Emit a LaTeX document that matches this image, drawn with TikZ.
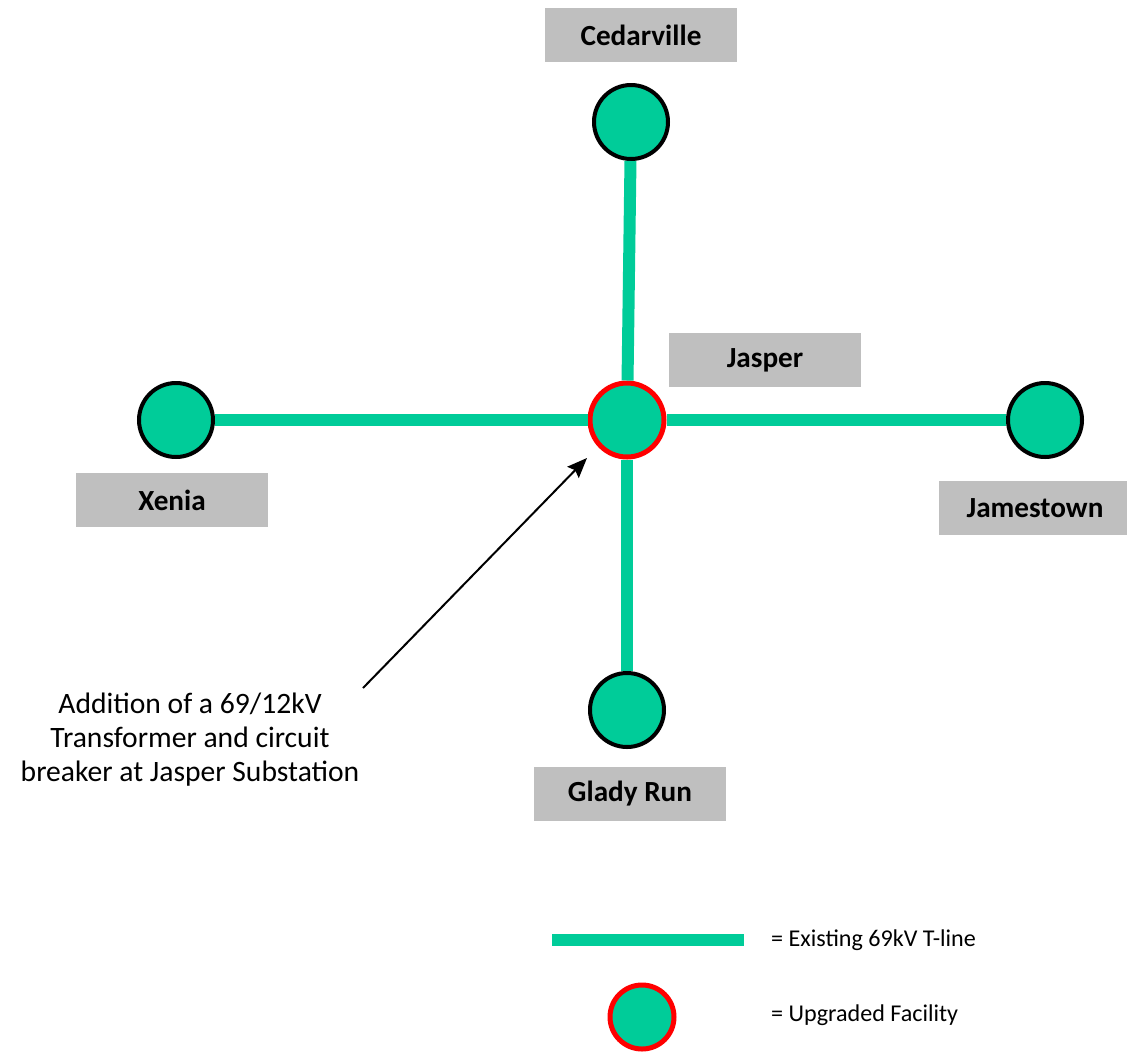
\documentclass[tikz,border=0pt]{standalone}
\usepackage{fontspec}
\setmainfont{Carlito}
\usetikzlibrary{arrows.meta}
\definecolor{lineGreen}{RGB}{0,204,153}
\definecolor{boxGray}{RGB}{191,191,191}

\begin{document}
\begin{tikzpicture}[x=1pt, y=-1pt,
  station/.style={circle, fill=lineGreen, draw=black, line width=4pt, minimum size=74pt, inner sep=0pt},
  upgraded/.style={station, draw=red, line width=5pt},
  namebox/.style={fill=boxGray, minimum width=192pt, minimum height=54pt, font=\fontsize{29.2}{34}\selectfont\bfseries},
  tline/.style={draw=lineGreen, line width=12pt},
  legendtext/.style={anchor=west, inner sep=0pt, font=\fontsize{24.1}{28}\selectfont}]
\useasboundingbox (0,0) rectangle (1127,1053);

% substations
\node[station] (cedarville) at (631,122) {};
\node[upgraded] (jasper) at (627,420) {};
\node[station] (xenia) at (176,420) {};
\node[station] (jamestown) at (1045,420) {};
\node[station] (gladyrun) at (627,710) {};

% 69kV lines
\draw[tline] (cedarville) -- (jasper);
\draw[tline] (xenia) -- (jasper);
\draw[tline] (jasper) -- (jamestown);
\draw[tline] (jasper) -- (gladyrun);

% name boxes
\node[namebox] (cedarvillelabel) at (641,35) {Cedarville};
\node[namebox] (jasperlabel) at (765,360) {Jasper};
\node[namebox] (xenialabel) at (172,500) {Xenia};
\node[namebox] (jamestownlabel) at (1035,508) {Jamestown};
\node[namebox] (gladyrunlabel) at (630,794) {Glady Run};

% note and arrow
\node[align=center, font=\fontsize{29.6}{34}\selectfont] (note) at (190,740) {Addition of a 69/12kV\\Transformer and circuit\\breaker at Jasper Substation};
\coordinate (arrowtail) at (363,688);
\coordinate (arrowtip) at (587,458);
\draw[-{Stealth[length=20pt, width=16pt, inset=3pt]}, line width=2pt] (arrowtail) -- (arrowtip);

% legend
\coordinate (keystart) at (552,940);
\coordinate (keyend) at (744,940);
\draw[tline] (keystart) -- (keyend);
\node[legendtext] (linekey) at (771,940) {= Existing 69kV T-line};
\node[upgraded, minimum size=64pt] (facilitykey) at (642,1017) {};
\node[legendtext] (facilitytext) at (771,1015) {= Upgraded Facility};
\end{tikzpicture}
\end{document}
